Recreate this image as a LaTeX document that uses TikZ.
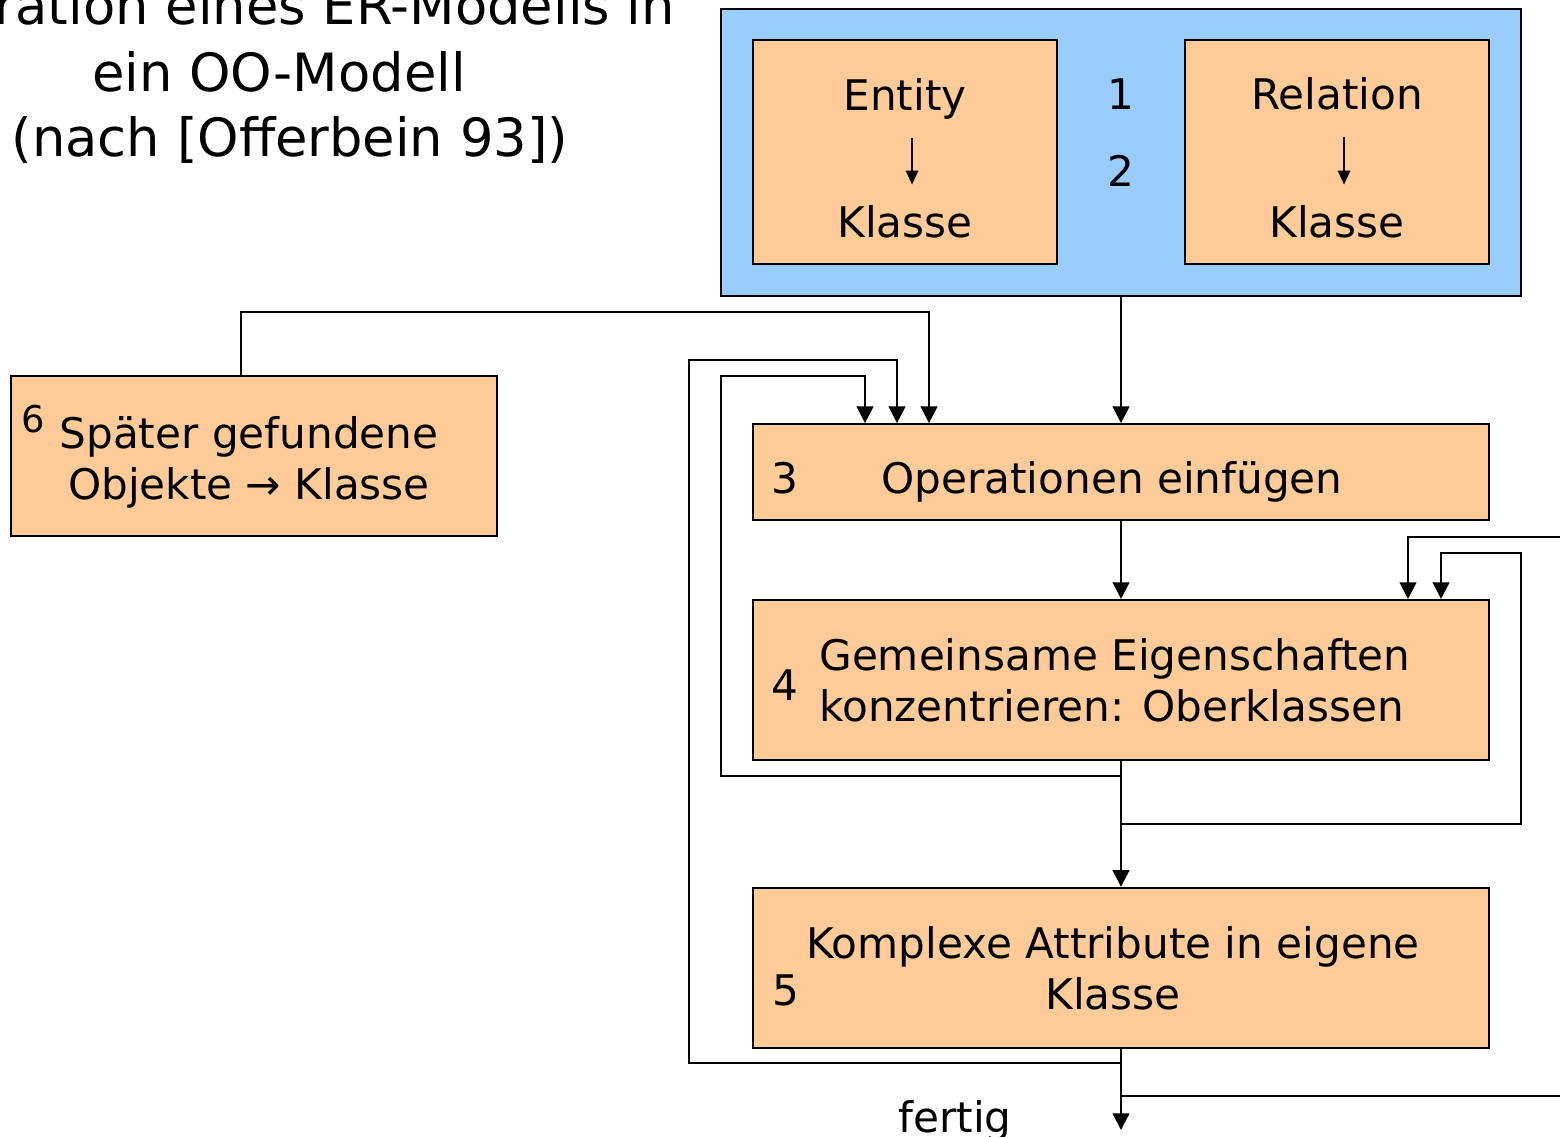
\documentclass[tikz,border=0pt]{standalone}
\usepackage{fontspec}
\setmainfont{DejaVu Sans}
\usetikzlibrary{positioning}
\usetikzlibrary{arrows.meta}

\definecolor{peach}{HTML}{FFCC99}
\definecolor{skyblue}{HTML}{99CCFF}

\begin{document}
\begin{tikzpicture}[x=0.02cm, y=-0.02cm,
			font=\fontsize{24}{29}\selectfont,
			stepbox/.style={draw, fill=peach, line width=1.1pt, inner sep=0pt, minimum width=14.72cm},
			rulebox/.style={draw, fill=peach, line width=1.1pt, inner sep=0pt, minimum width=6.08cm, minimum height=4.48cm},
			word/.style={inner sep=0pt, text height=0.76em, text depth=0.25em},
			flow/.style={draw, line width=1.3pt, -{Triangle[width=9.5pt, length=9.5pt]}},
			small/.style={draw, line width=1.2pt, -{Triangle[width=7pt, length=8pt]}}]
			\useasboundingbox (0,0) rectangle (1560,1137);
			% title
			\node[anchor=base east, font=\fontsize{30}{36}\selectfont] (title1) at (681,24) {ration eines ER-Modells in};
			\node[anchor=base, font=\fontsize{30}{36}\selectfont] (title2) at (279,91) {ein OO-Modell};
			\node[anchor=base, font=\fontsize{30}{36}\selectfont] (title3) at (290,156) {(nach [Offerbein 93])};
			% step 1 and 2
			\node[draw, fill=skyblue, line width=1.1pt, minimum width=16cm, minimum height=5.74cm] (er) at (1121,152.5) {};
			\node[rulebox] (ent) at (905,152) {};
			\node[rulebox, right=2.52cm of ent] (rel) {};
			\node[word, anchor=base] (enttop) at (905,110) {Entity};
			\node[word, anchor=base] (entbot) at (905,237) {Klasse};
			\node[word, anchor=base] (reltop) at (1337,109) {Relation};
			\node[word, anchor=base] (relbot) at (1337,237) {Klasse};
			\path[small, shorten <=13pt, shorten >=22pt] ([xshift=4pt]enttop.south) -- ([xshift=4pt]entbot.north);
			\path[small, shorten <=13pt, shorten >=22pt] ([xshift=4pt]reltop.south) -- ([xshift=4pt]relbot.north);
			\node[anchor=base] (one) at (1121,109) {1};
			\node[anchor=base] (two) at (1121,186) {2};
			% steps 3 to 5
			\node[stepbox, minimum height=1.92cm] (op) at (1121,472) {};
			\node[stepbox, minimum height=3.2cm, below=1.56cm of op] (gen) {};
			\node[stepbox, minimum height=3.2cm, below=2.52cm of gen] (attr) {};
			\node[anchor=base] (n3) at (785,493) {3};
			\node[anchor=base] (optxt) at (1112,493) {Operationen einfügen};
			\node[anchor=base] (n4) at (785,700) {4};
			\node[anchor=west, align=left, inner sep=0pt] (gentxt) at (819,680) {Gemeinsame Eigenschaften\\konzentrieren: Oberklassen};
			\node[anchor=base] (n5) at (786,1005) {5};
			\node[align=center] (attrtxt) at (1113,968) {Komplexe Attribute in eigene\\Klasse};
			% step 6
			\node[draw, fill=peach, line width=1.1pt, minimum width=9.72cm, minimum height=3.2cm] (late) at (254,456) {};
			\node[anchor=base, font=\fontsize{21}{25}\selectfont] (n6) at (33,432) {6};
			\node[align=center] (latetxt) at (249,462) {Später gefundene\\Objekte → Klasse};
			\node[anchor=base] (fertig) at (955,1132) {fertig};
			% turning points of the loops
			\coordinate (turn6) at (241,312);
			\coordinate (in6) at (929,312);
			\coordinate (tap5) at (1121,1063);
			\coordinate (turn5) at (689,360);
			\coordinate (in5) at (897,360);
			\coordinate (tap4) at (1121,776);
			\coordinate (turn4) at (721,376);
			\coordinate (in4) at (865,376);
			\coordinate (tap4r) at (1121,824);
			\coordinate (turn4r) at (1521,553);
			\coordinate (in4r) at (1441,553);
			\coordinate (tap5r) at (1121,1096);
			\coordinate (turn5r) at (1600,537);
			\coordinate (in5r) at (1408,537);
			\coordinate (done) at (1121,1130);
			% main flow
			\path[flow] (er) -- (op);
			\path[flow] (op) -- (gen);
			\path[flow] (gen) -- (attr);
			\path[flow] (attr) -- (done);
			% loops back
			\path[flow] (late.north -| turn6) -- (turn6) -| (op.north -| in6);
			\path[flow] (tap5) -| (turn5) -| (op.north -| in5);
			\path[flow] (tap4) -| (turn4) -| (op.north -| in4);
			\path[flow] (tap4r) -| (turn4r) -| (gen.north -| in4r);
			\path[flow] (tap5r) -| (turn5r) -| (gen.north -| in5r);
\end{tikzpicture}
\end{document}
